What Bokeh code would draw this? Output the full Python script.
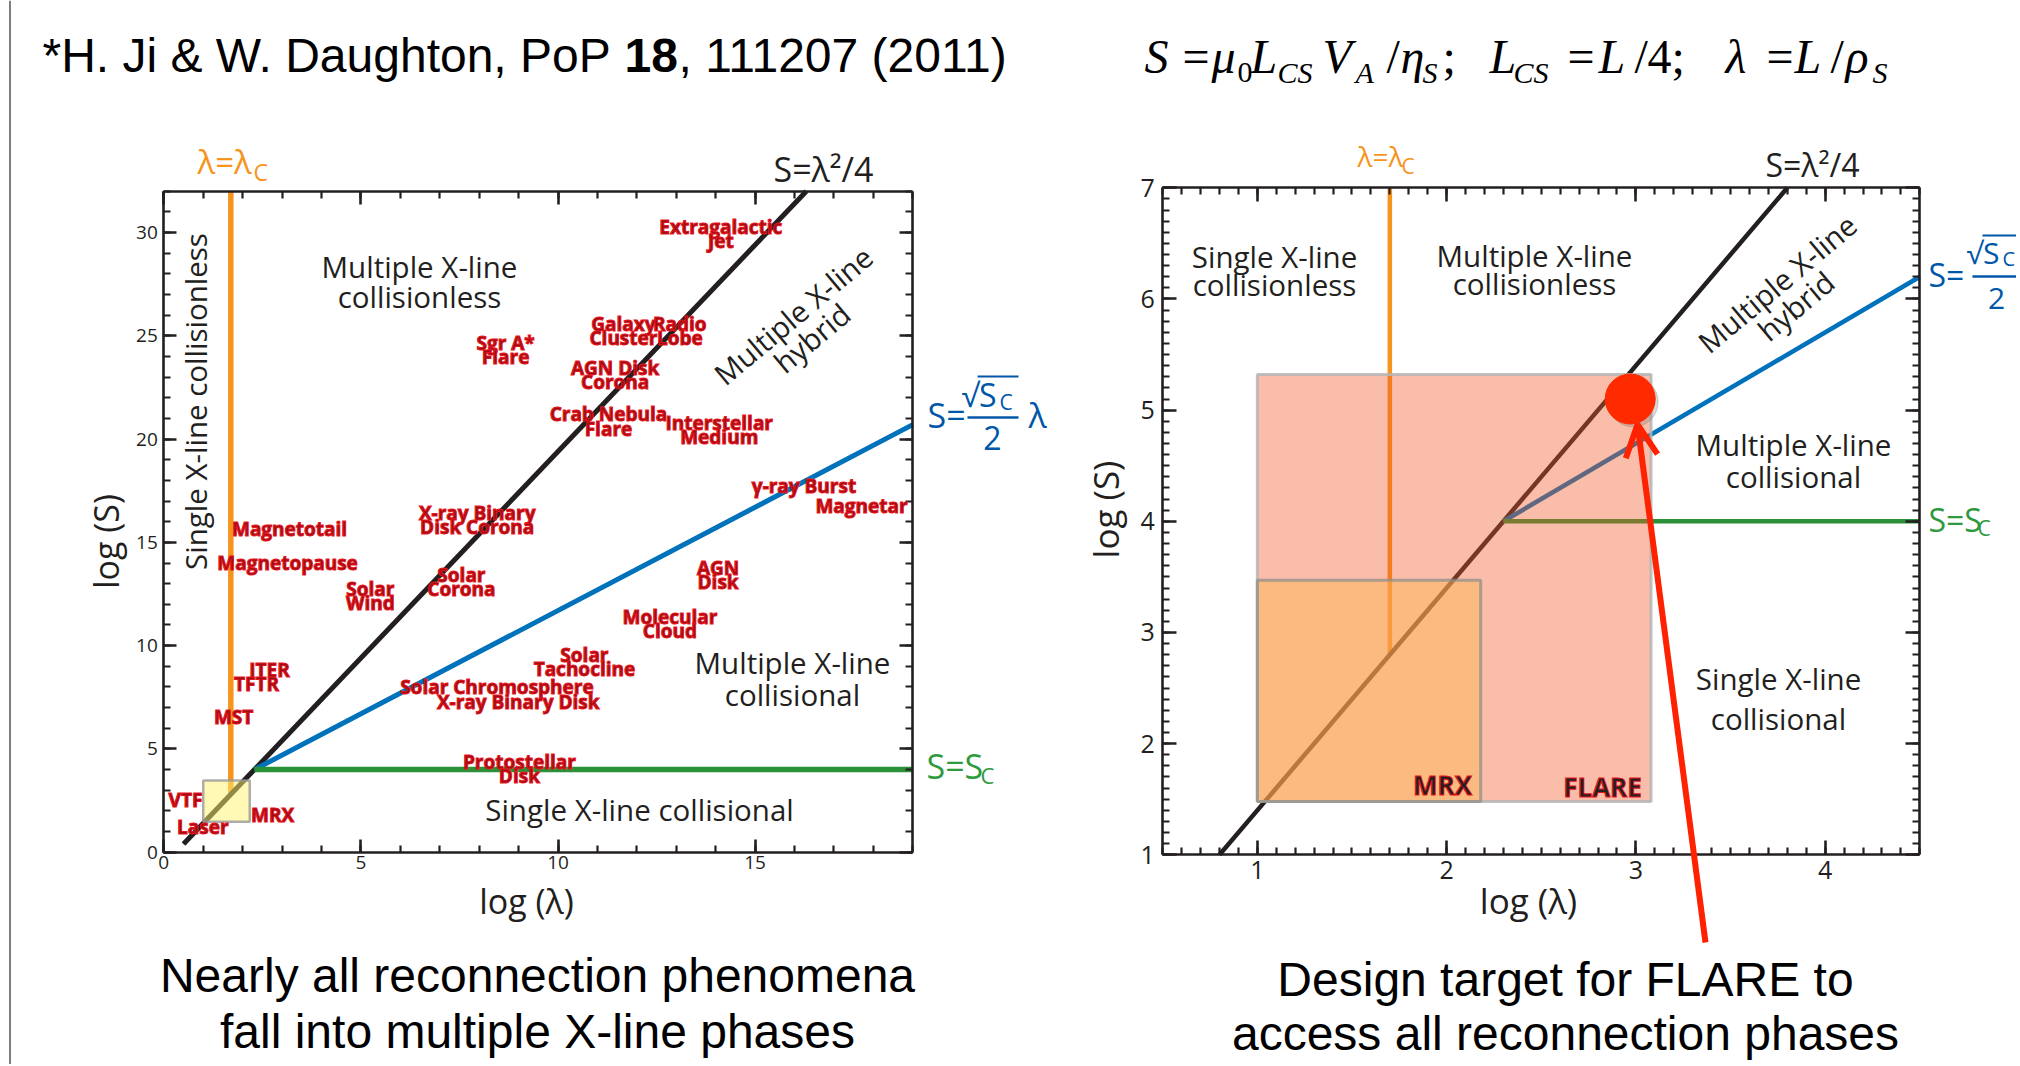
import math
import numpy as np
from bokeh.plotting import figure
from bokeh.models import Range1d, LinearAxis, FixedTicker, Label, Arrow, OpenHead
from bokeh.embed import file_html
from bokeh.resources import INLINE

# ======================= DATA =======================
# Left panel ranges / ticks
left_logl_range = [0, 19]
left_logS_range = [0, 32]
left_xticks = [0, 5, 10, 15]
left_yticks = [0, 5, 10, 15, 20, 25, 30]
# Right panel ranges / ticks
right_logl_range = [0.5, 4.5]
right_logS_range = [1, 7]
right_xticks = [1, 2, 3, 4]
right_yticks = [1, 2, 3, 4, 5, 6, 7]

# Phase boundaries
lamc_logl = 1.7                                   # lambda = lambda_c
lamc_L_logS = [2.8, 32.0]
lamc_R_logS = [2.8, 7.0]
sq_L_logl = [0.5, 16.3]; sq_L_logS = [0.4, 32.0]  # S = lambda^2/4
sq_R_logl = [0.8, 3.8];  sq_R_logS = [1.0, 7.0]
lin_L_logl = [2.3, 19.0]; lin_L_logS = [4.0, 20.7]  # S = sqrt(Sc)/2 lambda
lin_R_logl = [2.3, 4.5];  lin_R_logS = [4.0, 6.2]
sc_logS = 4.0                                     # S = Sc
sc_L_logl = [2.3, 19.0]
sc_R_logl = [2.3, 4.5]

# Experiment parameter boxes
mrx_logl = [1.0, 2.18];   mrx_logS = [1.48, 3.47]
flare_logl = [1.0, 3.08]; flare_logS = [1.48, 5.32]
target_logl = [2.97]; target_logS = [5.1]

# Reconnection phenomena (left panel)
phen_names = ["Extragalactic\nJet", "Galaxy\nCluster", "Radio\nLobe", "Sgr A*\nFlare",
              "AGN Disk\nCorona", "Crab Nebula\nFlare", "Interstellar\nMedium", "\u03b3-ray Burst",
              "Magnetar", "X-ray Binary\nDisk Corona", "Magnetotail", "Magnetopause",
              "Solar\nWind", "Solar\nCorona", "AGN\nDisk", "Molecular\nCloud",
              "Solar\nTachocline", "ITER", "TFTR", "MST", "Solar Chromosphere",
              "X-ray Binary Disk", "Protostellar\nDisk", "VTF", "Laser", "MRX"]
phen_logl = [14.13, 11.66, 13.09, 8.67, 11.45, 11.28, 14.09, 16.24, 17.70, 7.95, 3.19, 3.14,
             5.24, 7.55, 14.06, 12.84, 10.67, 2.68, 2.35, 1.77, 8.45, 8.99, 9.02, 0.55, 0.99, 2.76]
phen_logS = [29.95, 25.22, 25.22, 24.29, 23.11, 20.85, 20.42, 17.75, 16.74, 16.06, 15.67, 13.98,
             12.39, 13.10, 13.41, 11.07, 9.20, 8.80, 8.12, 6.54, 7.99, 7.26, 4.01, 2.55, 1.21, 1.78]

# ======================= STYLE / LAYOUT =======================
INK = "#231F20"
ORANGE = "#F7941D"
BLUE = "#0072BC"
BLUE_T = "#0057A8"
GREEN = "#2A9138"
GREEN_T = "#2E9A3E"
RED_FILL = "#9B0E14"
RED_LINE = "#E8141C"
SANS = "Open Sans"
HEL = "Liberation Sans"
SERIF = "Liberation Serif"
HAS_OUTLINE = "text_outline_color" in Label.properties()

W, H = 2016, 1064          # canvas, drawn at page (0, 0)
OX, OY = 0, 0
# page rectangles of the two plot boxes: (X_left, X_right, Y_top, Y_bottom)
L_rect = (163.3, 912.3, 190.7, 851.7)
R_rect = (1162.2, 1919.3, 187.3, 854.3)


def full_x(d, rect):
    k = (d[1] - d[0]) / (rect[1] - rect[0])
    return d[0] + (OX - rect[0]) * k, d[0] + (OX + W - rect[0]) * k


def full_y(d, rect):
    k = (d[1] - d[0]) / (rect[3] - rect[2])
    return d[0] - (OY + H - rect[3]) * k, d[0] + (rect[3] - OY) * k


def make_conv(dx, dy, rect):
    kx = (dx[1] - dx[0]) / (rect[1] - rect[0])
    ky = (dy[1] - dy[0]) / (rect[3] - rect[2])
    return lambda X, Y: (dx[0] + (X - rect[0]) * kx, dy[0] + (rect[3] - Y) * ky)


convL = make_conv(left_logl_range, left_logS_range, L_rect)
convR = make_conv(right_logl_range, right_logS_range, R_rect)

p = figure(width=W, height=H,
           x_range=Range1d(*full_x(left_logl_range, L_rect)),
           y_range=Range1d(*full_y(left_logS_range, L_rect)),
           x_axis_type=None, y_axis_type=None,
           output_backend="svg", toolbar_location=None, min_border=0)
p.extra_x_ranges = {"rx": Range1d(*full_x(right_logl_range, R_rect))}
p.extra_y_ranges = {"ry": Range1d(*full_y(right_logS_range, R_rect))}
p.grid.visible = False
p.outline_line_color = None
p.background_fill_color = "white"
p.border_fill_color = "white"
RN = dict(x_range_name="rx", y_range_name="ry")


def style_axis(ax, tick_fs, maj, mnr, lsoff, show):
    ax.axis_line_color = INK
    ax.axis_line_width = 2.6
    ax.major_tick_line_color = INK
    ax.major_tick_line_width = 2.6
    ax.minor_tick_line_color = INK
    ax.minor_tick_line_width = 2.2
    ax.major_tick_in = maj
    ax.major_tick_out = 0
    ax.minor_tick_in = mnr
    ax.minor_tick_out = 0
    ax.major_label_text_font = SANS
    ax.major_label_text_font_size = f"{tick_fs}px"
    ax.major_label_text_color = INK if show else None
    ax.major_label_standoff = lsoff


def add_box_axes(xt, yt, xb, yb, tick_fs, maj, mnr, xls, yls, rn):
    specs = [("below", xt, yb[0], xb, xls, True), ("above", xt, yb[1], xb, 2, False),
             ("left", yt, xb[0], yb, yls, True), ("right", yt, xb[1], yb, 2, False)]
    for side, tk, loc, bnd, ls, show in specs:
        ax = LinearAxis(ticker=tk, fixed_location=loc, bounds=(bnd[0], bnd[1]), **rn)
        style_axis(ax, tick_fs, maj, mnr, ls, show)
        p.add_layout(ax, side)


def put(X, Y, text, size, color, font=SANS, style="normal", align="center",
        baseline="middle", angle=0, lh=1.2, outline=None, conv=convL):
    # Y given as a baseline is turned into the text's middle
    if baseline == "alphabetic":
        Y = Y - (0.33 if font == SERIF else 0.35) * size
        baseline = "middle"
    x, y = conv(X, Y)
    kw = dict(x=x, y=y, text=text, text_font_size=f"{size}px", text_color=color,
              text_font=font, text_font_style=style, text_align=align, text_baseline=baseline,
              angle=math.radians(angle), text_line_height=lh)
    if outline is not None and HAS_OUTLINE:
        kw["text_outline_color"] = outline
    p.add_layout(Label(**kw))


def seg(X1, Y1, X2, Y2, color, width):
    x1, y1 = convL(X1, Y1)
    x2, y2 = convL(X2, Y2)
    p.add_layout(Arrow(start=None, end=None, x_start=x1, y_start=y1, x_end=x2, y_end=y2,
                       line_color=color, line_width=width))


# ======================= LEFT PANEL =======================
Lxt = FixedTicker(ticks=left_xticks, minor_ticks=list(range(0, 20)))
Lyt = FixedTicker(ticks=left_yticks, minor_ticks=list(range(0, 33)))
add_box_axes(Lxt, Lyt, left_logl_range, left_logS_range, 19, 13, 7, 4, 6, {})

p.line([lamc_logl, lamc_logl], lamc_L_logS, line_color=ORANGE, line_width=5.5)
p.line(sq_L_logl, sq_L_logS, line_color=INK, line_width=5)
p.line(lin_L_logl, lin_L_logS, line_color=BLUE, line_width=5)
p.line(sc_L_logl, [sc_logS, sc_logS], line_color=GREEN, line_width=5.5)
p.quad(left=[mrx_logl[0]], right=[mrx_logl[1]], bottom=[mrx_logS[0]], top=[mrx_logS[1]],
       fill_color="#FFF36B", fill_alpha=0.5, line_color="#9A9A9A", line_alpha=0.8, line_width=2.5)

for name, lx, ly in zip(phen_names, phen_logl, phen_logS):
    kw = dict(x=lx, y=ly, text=name, text_font_size="19px", text_font=SANS,
              text_font_style="bold", text_align="center", text_baseline="middle",
              text_line_height=0.54, text_color=RED_FILL if HAS_OUTLINE else "#B01218")
    if HAS_OUTLINE:
        kw["text_outline_color"] = RED_LINE
    p.add_layout(Label(**kw))

put(419, 281, "Multiple X-line\ncollisionless", 29.5, INK, lh=0.71)
put(195, 401, "Single X-line collisionless", 29.5, INK, angle=90)
put(802, 326, "Multiple X-line\nhybrid", 29.5, INK, angle=40, lh=0.71)
put(792, 678, "Multiple X-line\ncollisional", 29.5, INK, lh=0.76)
put(639, 809, "Single X-line collisional", 29.5, INK)
put(526, 900, "log (\u03bb)", 34, INK)
put(105, 541, "log (S)", 34, INK, angle=90)

put(197, 173, "\u03bb=\u03bb", 33, ORANGE, align="left", baseline="alphabetic")
put(253, 180, "C", 23, ORANGE, align="left", baseline="alphabetic")
put(773, 180, "S=\u03bb\u00b2/4", 34, INK, align="left", baseline="alphabetic")
put(927, 426, "S=", 34, BLUE_T, align="left", baseline="alphabetic")
put(961, 405, "\u221aS", 32, BLUE_T, align="left", baseline="alphabetic")
put(999, 409, "C", 21, BLUE_T, align="left", baseline="alphabetic")
seg(977, 376, 1018, 376, BLUE_T, 2)
seg(967, 417, 1018, 417, BLUE_T, 2.5)
put(992, 449, "2", 32, BLUE_T, align="center", baseline="alphabetic")
put(1028, 426, "\u03bb", 34, BLUE_T, align="left", baseline="alphabetic")
put(926, 777, "S=S", 34, GREEN_T, align="left", baseline="alphabetic")
put(980, 782, "C", 22, GREEN_T, align="left", baseline="alphabetic")

put(42, 72, "*H. Ji & W. Daughton, PoP ", 48, "black", font=HEL, align="left", baseline="alphabetic")
put(624, 72, "18", 48, "black", font=HEL, style="bold", align="left", baseline="alphabetic")
put(678, 72, ", 111207 (2011)", 48, "black", font=HEL, align="left", baseline="alphabetic")
put(537, 992, "Nearly all reconnection phenomena", 48, "black", font=HEL, baseline="alphabetic")
put(537, 1048, "fall into multiple X-line phases", 48, "black", font=HEL, baseline="alphabetic")
seg(9.5, 0, 9.5, 1066, "#555555", 1.5)

# ======================= RIGHT PANEL =======================
Rxt = FixedTicker(ticks=right_xticks, minor_ticks=[round(v, 2) for v in np.arange(0.5, 4.51, 0.1)])
Ryt = FixedTicker(ticks=right_yticks, minor_ticks=[round(v, 2) for v in np.arange(1.0, 7.01, 0.1)])
add_box_axes(Rxt, Ryt, right_logl_range, right_logS_range, 25, 14, 7, 6, 8, RN)

p.line([lamc_logl, lamc_logl], lamc_R_logS, line_color=ORANGE, line_width=4.5, **RN)
p.line(sq_R_logl, sq_R_logS, line_color=INK, line_width=4.5, **RN)
p.line(lin_R_logl, lin_R_logS, line_color=BLUE, line_width=4.5, **RN)
p.line(sc_R_logl, [sc_logS, sc_logS], line_color=GREEN, line_width=4.5, **RN)
p.quad(left=[flare_logl[0]], right=[flare_logl[1]], bottom=[flare_logS[0]], top=[flare_logS[1]],
       fill_color="#F05A28", fill_alpha=0.4, line_color="#B5B5B5", line_alpha=0.85, line_width=3, **RN)
p.quad(left=[mrx_logl[0]], right=[mrx_logl[1]], bottom=[mrx_logS[0]], top=[mrx_logS[1]],
       fill_color="#FDB757", fill_alpha=0.5, line_color="#8C8C8C", line_alpha=0.7, line_width=3, **RN)

kx = (right_logl_range[1] - right_logl_range[0]) / (R_rect[1] - R_rect[0])
ky = (right_logS_range[1] - right_logS_range[0]) / (R_rect[3] - R_rect[2])
p.scatter([v + 3 * kx for v in target_logl], [v - 3 * ky for v in target_logS], size=50,
          color="#7A7A7A", alpha=0.3, **RN)
p.scatter(target_logl, target_logS, size=50, color="#FF2A00", **RN)
ax1, ay1 = convR(1705, 942)
ax2, ay2 = convR(1637, 424)
p.add_layout(Arrow(x_start=ax1, y_start=ay1, x_end=ax2, y_end=ay2, line_color="#FF2200",
                   line_width=6, end=OpenHead(size=32, line_color="#FF2200", line_width=6), **RN))

put(1274, 270, "Single X-line\ncollisionless", 29.5, INK, lh=0.7)
put(1534, 269, "Multiple X-line\ncollisionless", 29.5, INK, lh=0.7)
put(1786, 294, "Multiple X-line\nhybrid", 29.5, INK, angle=40, lh=0.71)
put(1793, 460, "Multiple X-line\ncollisional", 29.5, INK, lh=0.76)
put(1778, 698, "Single X-line\ncollisional", 29.5, INK, lh=0.97)
put(1602, 786, "FLARE", 26, INK, style="bold", outline=RED_LINE)
put(1442, 784, "MRX", 26, INK, style="bold", outline=RED_LINE)
put(1528, 900, "log (\u03bb)", 35, INK)
put(1105, 509, "log (S)", 35, INK, angle=90)

put(1357, 165, "\u03bb=\u03bb", 28, ORANGE, align="left", baseline="alphabetic")
put(1401, 173, "C", 21, ORANGE, align="left", baseline="alphabetic")
put(1765, 175, "S=\u03bb\u00b2/4", 32, INK, align="left", baseline="alphabetic")
put(1928, 285, "S=", 32, BLUE_T, align="left", baseline="alphabetic")
put(1966, 262, "\u221aS", 30, BLUE_T, align="left", baseline="alphabetic")
put(2002, 265, "C", 20, BLUE_T, align="left", baseline="alphabetic")
seg(1982, 235, 2030, 235, BLUE_T, 2)
seg(1972, 276, 2030, 276, BLUE_T, 2.5)
put(1996, 308, "2", 30, BLUE_T, align="center", baseline="alphabetic")
put(1928, 530, "S=S", 32, GREEN_T, align="left", baseline="alphabetic")
put(1977, 535, "C", 21, GREEN_T, align="left", baseline="alphabetic")

main_pieces = [("S", 1144, "italic"), ("=", 1182, "normal"), ("\u03bc", 1211, "italic"),
               ("L", 1250, "italic"), ("V", 1322, "italic"), ("/", 1386, "normal"),
               ("\u03b7", 1400, "italic"), (";", 1442, "normal"), ("L", 1489, "italic"),
               ("=", 1567, "normal"), ("L", 1598, "italic"), ("/", 1634, "normal"),
               ("4;", 1647, "normal"), ("\u03bb", 1725, "italic"), ("=", 1766, "normal"),
               ("L", 1794, "italic"), ("/", 1830, "normal"), ("\u03c1", 1845, "italic")]
sub_pieces = [("0", 1237, "normal"), ("CS", 1277, "italic"), ("A", 1355, "italic"),
              ("S", 1422, "italic"), ("CS", 1513, "italic"), ("S", 1872, "italic")]
for t, X, st in main_pieces:
    put(X, 72, t, 48, "black", font=SERIF, style=st, align="left", baseline="alphabetic")
for t, X, st in sub_pieces:
    put(X, 82, t, 30, "black", font=SERIF, style=st, align="left", baseline="alphabetic")

put(1565, 996, "Design target for FLARE to", 48, "black", font=HEL, baseline="alphabetic")
put(1565, 1050, "access all reconnection phases", 48, "black", font=HEL, baseline="alphabetic")

open("out.html", "w").write(file_html(p, INLINE))
